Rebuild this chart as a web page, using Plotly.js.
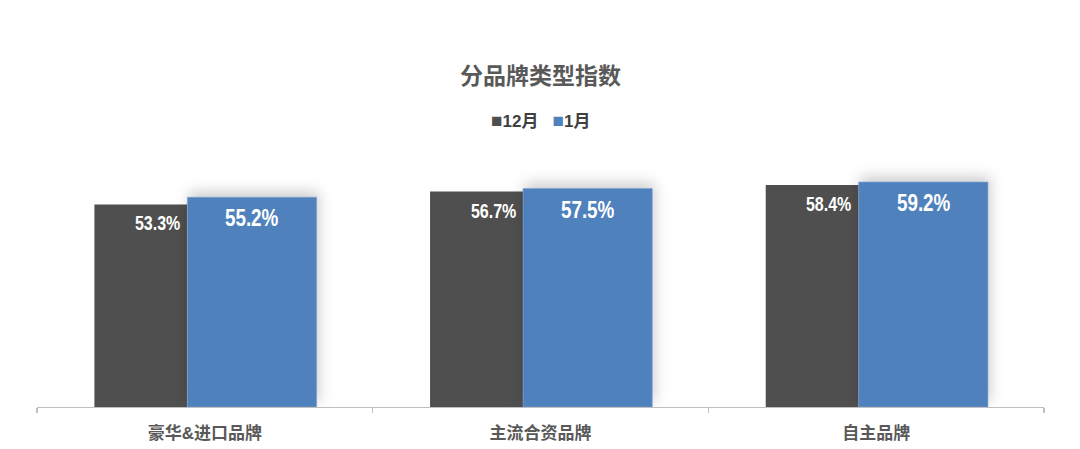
<!DOCTYPE html>
<html>
<head>
<meta charset="utf-8">
<script src="https://cdn.plot.ly/plotly-3.0.1.min.js"></script>
<style>
html,body{margin:0;padding:0;background:#fff;}
#chart{width:1080px;height:449px;}
.barlayer .trace:nth-child(2){filter:drop-shadow(2px -5px 7px rgba(0,0,0,0.2));}
</style>
</head>
<body>
<div id="chart"></div>
<script>
const categories = ['豪华&进口品牌', '主流合资品牌', '自主品牌'];
const seriesNames = ['12月', '1月'];
const seriesColors = ['#4f4f4f', '#4f81bd'];
const dec = [53.3, 56.7, 58.4];
const jan = [55.2, 57.5, 59.2];

const cjk = '"Liberation Sans", "Noto Sans CJK SC", sans-serif';
const num = '"Liberation Sans", Arial, sans-serif';

const traces = [
  {type: 'bar', name: seriesNames[0], x: categories, y: dec,
   width: 0.277, offset: -0.329, marker: {color: seriesColors[0]}, hoverinfo: 'skip', showlegend: false},
  {type: 'bar', name: seriesNames[1], x: categories, y: jan,
   width: 0.385, offset: -0.052, marker: {color: seriesColors[1], line: {color: '#7ea3d4', width: 0.6}},
   hoverinfo: 'skip', showlegend: false}
];

const annotations = [];
categories.forEach((c, i) => {
  annotations.push({x: c, y: dec[i], xref: 'x', yref: 'y', text: dec[i].toFixed(1) + '%',
    showarrow: false, xanchor: 'right', yanchor: 'middle', xshift: -23, yshift: -19,
    font: {family: num, size: 19.5, color: '#ffffff', weight: 'bold'}});
  annotations.push({x: c, y: jan[i], xref: 'x', yref: 'y', text: jan[i].toFixed(1) + '%',
    showarrow: false, xanchor: 'center', yanchor: 'middle', xshift: 47, yshift: -21,
    font: {family: num, size: 23, color: '#ffffff', weight: 'bold'}});
});

// legend drawn as a compact text line built from the series names/colours
const legendText = seriesNames.map((n, k) =>
  '<span style="color:' + seriesColors[k] + ';font-size:19px">■</span>' + n).join('\u00a0\u00a0\u00a0');
annotations.push({x: 0.5, xref: 'paper', y: (407 - 121) / 266, yref: 'paper', text: legendText,
  showarrow: false, xanchor: 'center', yanchor: 'middle',
  font: {family: cjk, size: 17, color: '#404040', weight: 'bold'}});

const layout = {
  width: 1080, height: 449,
  margin: {l: 37, r: 36, t: 141, b: 42},
  paper_bgcolor: '#ffffff', plot_bgcolor: '#ffffff',
  barmode: 'group',
  showlegend: false,
  title: {text: '分品牌类型指数', x: 0.5, xanchor: 'center', xref: 'paper',
    y: 1 - 76/449, yref: 'container', yanchor: 'middle',
    font: {family: cjk, size: 23, color: '#595959', weight: 'bold'}},
  xaxis: {type: 'category', range: [-0.5, 2.5], showline: true, linecolor: '#bfbfbf', linewidth: 1.3,
    ticks: 'outside', tickson: 'boundaries', ticklen: 5, tickcolor: '#bfbfbf', tickwidth: 1.3,
    ticklabelstandoff: 10,
    showgrid: false, zeroline: false,
    tickfont: {family: cjk, size: 17, color: '#595959', weight: 'bold'}},
  yaxis: {range: [0, 70], visible: false, showgrid: false, zeroline: false},
  annotations: annotations
};

const decLabels = dec.map(v => v.toFixed(1) + '%');
Plotly.newPlot('chart', traces, layout, {displayModeBar: false, staticPlot: true}).then(gd => {
  gd.querySelectorAll('.annotation-text').forEach(t => {
    const s = t.textContent;
    if (/%$/.test(s)) {
      t.style.transformBox = 'fill-box';
      t.style.transformOrigin = decLabels.includes(s) ? 'right center' : 'center center';
      t.style.transform = 'scaleX(0.82)';
    }
  });
});
</script>
</body>
</html>
